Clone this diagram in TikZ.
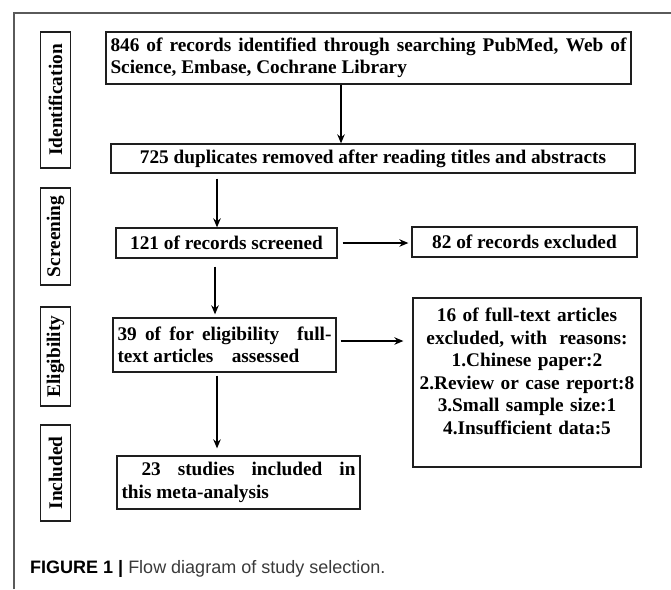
\documentclass[tikz,border=0pt]{standalone}
\usepackage{fontspec}
\setmainfont{Liberation Serif}
\newfontfamily\capfont{Liberation Sans}
\usetikzlibrary{arrows.meta}

\definecolor{boxline}{HTML}{1E1E1E}
\definecolor{framegray}{HTML}{5A5A5A}
\definecolor{capgray}{HTML}{3A3A3A}
\newcommand{\boxfont}{\fontsize{19.3}{22.5}\selectfont\bfseries}

\tikzset{
	flowbox/.style={draw=boxline, line width=1.3pt, font=\boxfont, inner xsep=4.5pt, inner ysep=3pt},
	sidebox/.style={draw=boxline, line width=1.3pt, font=\boxfont, rotate=90, minimum height=30pt, inner sep=0pt},
	flowarrow/.style={line width=1.4pt, -{Stealth[length=9pt,width=7.5pt]}}
}

\begin{document}
\begin{tikzpicture}[x=1pt,y=-1pt]
	\useasboundingbox (0,0) rectangle (671,589);
	\draw[framegray, line width=1.2pt] (14,589) -- (14,13) -- (671,13);

	% stage labels
	\foreach \nm/\yc/\len/\lbl in {id/100/136/Identification, scr/236.5/97/Screening, elig/356.5/99/Eligibility, inc/473/96/Included} {
		\node[sidebox, minimum width=\len pt] (side-\nm) at (55.5,\yc) {\lbl};
	}

	\node[flowbox, text width=516pt, align=justify, minimum height=52pt] (found) at (368.5,58) {846 of records identified through searching PubMed, Web of\linebreak Science, Embase, Cochrane Library};
	\node[flowbox, minimum width=524pt, minimum height=29pt] (dupl) at (373,158.5) {725 duplicates removed after reading titles and abstracts};
	\node[flowbox, minimum width=221pt, minimum height=30pt] (screen) at (226.5,243) {121 of records screened};
	\node[flowbox, minimum width=225pt, minimum height=30pt] (excl) at (524.5,242) {82 of records excluded};
	\node[flowbox, text width=214pt, align=justify, minimum height=54pt] (full) at (224.5,345) {39 of for eligibility\hspace{0.5em} full-\linebreak text articles\hspace{0.7em} assessed};
	\node[flowbox, text width=219pt, align=center, minimum height=169pt] (reason) at (527,382.5) {16 of full-text articles\\excluded, with\hspace{0.3em} reasons:\\1.Chinese paper:2\\2.Review or case report:8\\3.Small sample size:1\\4.Insufficient data:5\\~};
	\node[flowbox, text width=234pt, align=justify, minimum height=53pt] (incl) at (238.5,482.5) {\hspace*{20pt}23 studies included in\linebreak this meta-analysis};

	\draw[flowarrow] ([xshift=-27.5pt]found.south) -- ([xshift=-27.5pt]found.south |- dupl.north);
	\draw[flowarrow, shorten <=5pt] ([xshift=-9.5pt]screen.north |- dupl.south) -- ([xshift=-9.5pt]screen.north);
	\draw[flowarrow, shorten <=5pt, shorten >=3pt] (screen.east) -- (screen.east -| excl.west);
	\draw[flowarrow, shorten <=8pt, shorten >=3pt] ([xshift=-11.5pt]screen.south) -- ([xshift=-11.5pt]screen.south |- full.north);
	\draw[flowarrow, shorten <=4pt, shorten >=9pt] ([yshift=4pt]full.east) -- ([yshift=4pt]full.east -| reason.west);
	\draw[flowarrow, shorten <=3pt, shorten >=7pt] ([xshift=-7.5pt]full.south) -- ([xshift=-7.5pt]full.south |- incl.north);

	\node[anchor=west, inner sep=0pt, font=\capfont\fontsize{18}{20}\selectfont] (cap) at (30,569) {\textbf{FIGURE 1 |} {\color{capgray}Flow diagram of study selection.}};
\end{tikzpicture}
\end{document}
